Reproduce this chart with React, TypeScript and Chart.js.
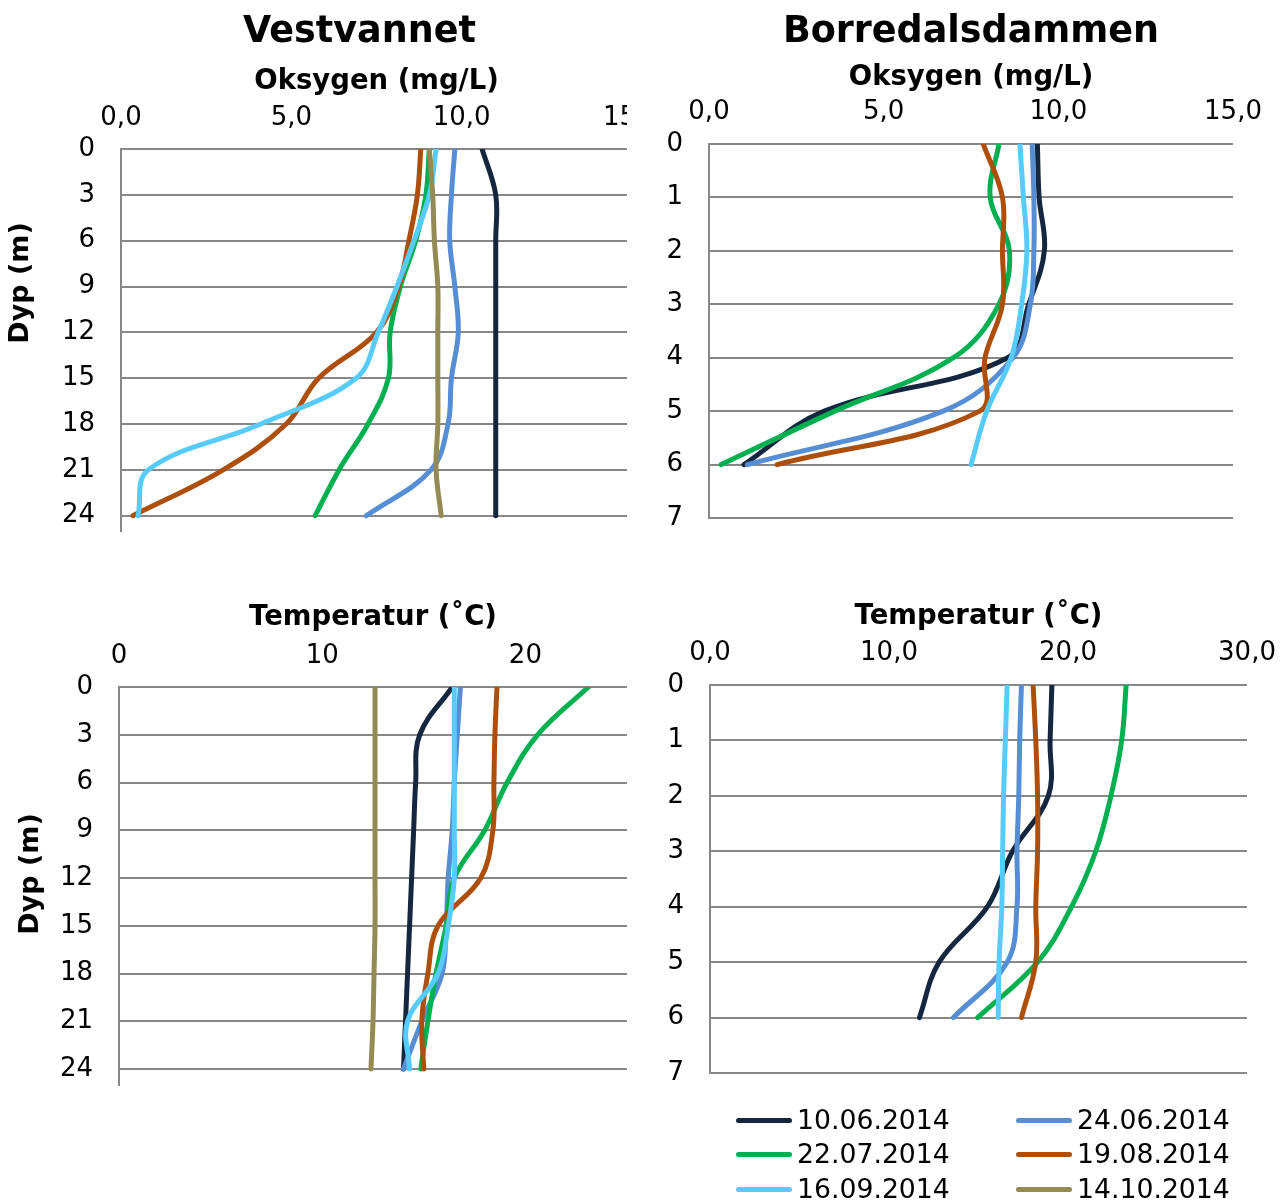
import React, { useEffect, useRef } from "react";
import { Chart, registerables } from "chart.js";

Chart.register(...registerables);
Chart.defaults.font.family = "'DejaVu Sans', Verdana, sans-serif";

// ---------- series ----------
const DATES = ["10.06.2014", "24.06.2014", "22.07.2014", "19.08.2014", "16.09.2014", "14.10.2014"];
const COLORS = ["#14273F", "#558ED5", "#00B050", "#AD4F0B", "#57CBFB", "#948A54"];

const VEST_DEPTHS = [0, 3, 6, 9, 12, 15, 18, 21, 24];
const BORR_DEPTHS = [0, 1, 2, 3, 4, 5, 6];

// Vestvannet – oksygen (mg/L)
const VEST_O2_1006 = [10.6, 11.0, 11.0, 11.0, 11.0, 11.0, 11.0, 11.0, 11.0];
const VEST_O2_2406 = [9.8, 9.7, 9.65, 9.8, 9.9, 9.7, 9.6, 9.1, 7.2];
const VEST_O2_2207 = [9.05, 8.95, 8.65, 8.2, 7.9, 7.85, 7.25, 6.4, 5.7];
const VEST_O2_1908 = [8.8, 8.7, 8.45, 8.15, 7.5, 5.8, 4.85, 3.0, 0.35];
const VEST_O2_1609 = [9.25, 9.05, 8.6, 8.1, 7.55, 6.9, 4.1, 0.8, 0.5];
const VEST_O2_1410 = [9.05, 9.15, 9.2, 9.3, 9.3, 9.3, 9.3, 9.25, 9.4];

// Borredalsdammen – oksygen (mg/L)
const BORR_O2_1006 = [9.4, 9.45, 9.6, 9.15, 8.55, 3.3, 1.0];
const BORR_O2_2406 = [9.25, 9.3, 9.3, 9.2, 8.7, 6.7, 1.1];
const BORR_O2_2207 = [8.3, 8.05, 8.6, 8.3, 7.0, 3.6, 0.35];
const BORR_O2_1908 = [7.85, 8.4, 8.4, 8.4, 7.9, 7.75, 1.95];
const BORR_O2_1609 = [8.9, 9.0, 9.1, 8.95, 8.65, 7.95, 7.5];

// Vestvannet – temperatur (°C)
const VEST_T_1006 = [16.4, 14.8, 14.6, 14.5, 14.4, 14.3, 14.2, 14.1, 14.0];
const VEST_T_2406 = [16.8, 16.65, 16.5, 16.4, 16.2, 16.1, 15.9, 14.9, 14.0];
const VEST_T_2207 = [23.1, 20.6, 19.1, 18.0, 16.5, 16.1, 15.6, 15.2, 14.85];
const VEST_T_1908 = [18.6, 18.5, 18.45, 18.4, 17.8, 15.7, 15.2, 14.9, 15.0];
const VEST_T_1609 = [16.5, 16.5, 16.5, 16.5, 16.5, 16.2, 15.7, 14.2, 14.3];
const VEST_T_1410 = [12.6, 12.6, 12.6, 12.6, 12.6, 12.6, 12.55, 12.5, 12.4];

// Borredalsdammen – temperatur (°C)
const BORR_T_1006 = [19.1, 19.0, 18.9, 16.9, 15.5, 12.8, 11.7];
const BORR_T_2406 = [17.4, 17.3, 17.25, 17.15, 17.15, 16.6, 13.6];
const BORR_T_2207 = [23.25, 23.0, 22.4, 21.55, 20.2, 18.3, 14.95];
const BORR_T_1908 = [18.05, 18.2, 18.3, 18.3, 18.2, 18.2, 17.4];
const BORR_T_1609 = [16.6, 16.5, 16.4, 16.35, 16.3, 16.15, 16.1];

// ---------- ticks ----------
const VEST_DEPTH_TICKS = [0, 3, 6, 9, 12, 15, 18, 21, 24];
const BORR_DEPTH_TICKS = [0, 1, 2, 3, 4, 5, 6, 7];
const O2_TICKS = [0, 5, 10, 15];
const O2_TICK_LABELS = ["0,0", "5,0", "10,0", "15,0"];
const VEST_TEMP_TICKS = [0, 10, 20];
const VEST_TEMP_TICK_LABELS = ["0", "10", "20"];
const BORR_TEMP_TICKS = [0, 10, 20, 30];
const BORR_TEMP_TICK_LABELS = ["0,0", "10,0", "20,0", "30,0"];

const GRID = "#878787";
const FONT = "'DejaVu Sans', Verdana, sans-serif";

type Series = { idx: number; values: number[] };

type PanelCfg = {
  wrap: { left: number; top: number; width: number; height: number };
  cw: number;
  ch: number;
  pad: { left: number; right: number; top: number; bottom: number };
  title?: { text: string; padTop: number; fullSize: boolean };
  xTitle: string;
  xTitlePad: number;
  tickPad: number;
  xAxisH: number;
  yAxisW: number;
  rightSpacer: number;
  xMax: number;
  xTicks: number[];
  xLabels: string[];
  yMax: number;
  yTicks: number[];
  depths: number[];
  series: Series[];
  yTitle?: { x: number; y: number };
};

const PANELS: PanelCfg[] = [
  {
    wrap: { left: 0, top: 0, width: 627, height: 600 },
    cw: 700,
    ch: 600,
    pad: { left: 56, right: 37, top: 0, bottom: 69 },
    title: { text: "Vestvannet", padTop: 11.0, fullSize: true },
    xTitle: "Oksygen (mg/L)",
    xTitlePad: 10.3,
    tickPad: 15.2,
    xAxisH: 94.2,
    yAxisW: 65,
    rightSpacer: 31,
    xMax: 15,
    xTicks: O2_TICKS,
    xLabels: O2_TICK_LABELS,
    yMax: 25,
    yTicks: VEST_DEPTH_TICKS,
    depths: VEST_DEPTHS,
    series: [
      { idx: 0, values: VEST_O2_1006 },
      { idx: 1, values: VEST_O2_2406 },
      { idx: 2, values: VEST_O2_2207 },
      { idx: 3, values: VEST_O2_1908 },
      { idx: 4, values: VEST_O2_1609 },
      { idx: 5, values: VEST_O2_1410 },
    ],
    yTitle: { x: 20.5, y: 283 },
  },
  {
    wrap: { left: 640, top: 0, width: 640, height: 600 },
    cw: 700,
    ch: 600,
    pad: { left: 0, right: 107, top: 0, bottom: 82 },
    title: { text: "Borredalsdammen", padTop: 10.7, fullSize: false },
    xTitle: "Oksygen (mg/L)",
    xTitlePad: 7.3,
    tickPad: 16.4,
    xAxisH: 89.5,
    yAxisW: 69,
    rightSpacer: 0,
    xMax: 15,
    xTicks: O2_TICKS,
    xLabels: O2_TICK_LABELS,
    yMax: 7,
    yTicks: BORR_DEPTH_TICKS,
    depths: BORR_DEPTHS,
    series: [
      { idx: 0, values: BORR_O2_1006 },
      { idx: 1, values: BORR_O2_2406 },
      { idx: 2, values: BORR_O2_2207 },
      { idx: 3, values: BORR_O2_1908 },
      { idx: 4, values: BORR_O2_1609 },
    ],
  },
  {
    wrap: { left: 0, top: 560, width: 640, height: 640 },
    cw: 700,
    ch: 600,
    pad: { left: 0, right: 73, top: 0, bottom: 75 },
    xTitle: "Temperatur (˚C)",
    xTitlePad: 41.0,
    tickPad: 15.3,
    xAxisH: 127,
    yAxisW: 119,
    rightSpacer: 0,
    xMax: 25,
    xTicks: VEST_TEMP_TICKS,
    xLabels: VEST_TEMP_TICK_LABELS,
    yMax: 25,
    yTicks: VEST_DEPTH_TICKS,
    depths: VEST_DEPTHS,
    series: [
      { idx: 0, values: VEST_T_1006 },
      { idx: 1, values: VEST_T_2406 },
      { idx: 2, values: VEST_T_2207 },
      { idx: 3, values: VEST_T_1908 },
      { idx: 4, values: VEST_T_1609 },
      { idx: 5, values: VEST_T_1410 },
    ],
    yTitle: { x: 30.5, y: 314 },
  },
  {
    wrap: { left: 640, top: 560, width: 640, height: 640 },
    cw: 700,
    ch: 600,
    pad: { left: 0, right: 93, top: 0, bottom: 87 },
    xTitle: "Temperatur (˚C)",
    xTitlePad: 40.5,
    tickPad: 16.1,
    xAxisH: 125,
    yAxisW: 70,
    rightSpacer: 0,
    xMax: 30,
    xTicks: BORR_TEMP_TICKS,
    xLabels: BORR_TEMP_TICK_LABELS,
    yMax: 7,
    yTicks: BORR_DEPTH_TICKS,
    depths: BORR_DEPTHS,
    series: [
      { idx: 0, values: BORR_T_1006 },
      { idx: 1, values: BORR_T_2406 },
      { idx: 2, values: BORR_T_2207 },
      { idx: 3, values: BORR_T_1908 },
      { idx: 4, values: BORR_T_1609 },
    ],
  },
];

function yTitlePlugin(text: string, x: number, y: number) {
  return {
    id: "yTitleText",
    afterDraw(chart: any) {
      const ctx = chart.ctx as CanvasRenderingContext2D;
      ctx.save();
      ctx.translate(x, y);
      ctx.rotate(-Math.PI / 2);
      ctx.font = `bold 27px ${FONT}`;
      ctx.fillStyle = "#000";
      ctx.textAlign = "center";
      ctx.textBaseline = "middle";
      ctx.fillText(text, 0, 0);
      ctx.restore();
    },
  };
}

function Panel({ cfg }: { cfg: PanelCfg }) {
  const ref = useRef<HTMLCanvasElement>(null);
  useEffect(() => {
    if (!ref.current) return;
    const datasets = cfg.series.map((s) => ({
      label: DATES[s.idx],
      data: cfg.depths.map((d, i) => ({ x: s.values[i], y: d })),
      borderColor: COLORS[s.idx],
      backgroundColor: COLORS[s.idx],
      borderWidth: 5,
      borderCapStyle: "round" as const,
      borderJoinStyle: "round" as const,
      showLine: true,
      tension: 0.38,
      pointRadius: 0,
      pointHoverRadius: 0,
      order: 10 - s.idx,
    }));
    const plugins: any[] = [];
    if (cfg.yTitle) plugins.push(yTitlePlugin("Dyp (m)", cfg.yTitle.x, cfg.yTitle.y));
    const scales: any = {
      x: {
        type: "linear",
        position: "top",
        min: 0,
        max: cfg.xMax,
        afterBuildTicks: (s: any) => {
          s.ticks = cfg.xTicks.map((v) => ({ value: v }));
        },
        afterFit: (s: any) => {
          s.height = cfg.xAxisH;
        },
        grid: { display: false, drawTicks: false },
        border: { display: false },
        ticks: {
          autoSkip: false,
          maxRotation: 0,
          padding: cfg.tickPad,
          color: "#000",
          font: { size: 26, family: FONT },
          callback: (v: any) => {
            const i = cfg.xTicks.indexOf(Number(v));
            return i >= 0 ? cfg.xLabels[i] : "";
          },
        },
        title: {
          display: true,
          text: cfg.xTitle,
          color: "#000",
          font: { size: 27.5, weight: "bold", family: FONT },
          padding: { top: cfg.xTitlePad, bottom: 0 },
        },
      },
      y: {
        type: "linear",
        position: "left",
        reverse: true,
        min: 0,
        max: cfg.yMax,
        afterBuildTicks: (s: any) => {
          s.ticks = cfg.yTicks.map((v) => ({ value: v }));
        },
        afterFit: (s: any) => {
          s.width = cfg.yAxisW;
        },
        grid: { color: GRID, lineWidth: 2, drawTicks: false },
        border: { display: true, color: GRID, width: 2 },
        ticks: {
          autoSkip: false,
          padding: 26,
          color: "#000",
          font: { size: 26, family: FONT },
          callback: (v: any) => String(v),
        },
      },
    };
    if (cfg.rightSpacer > 0) {
      // empty right-hand box, only reserves room so the chart title centres like the original
      scales.spacer = {
        type: "linear",
        axis: "y",
        position: "right",
        min: 0,
        max: 1,
        afterFit: (s: any) => {
          s.width = cfg.rightSpacer;
        },
        grid: { display: false, drawTicks: false },
        border: { display: false },
        ticks: { display: false },
      };
    }
    const chart = new Chart(ref.current, {
      type: "scatter",
      data: { datasets },
      plugins,
      options: {
        responsive: false,
        animation: false,
        devicePixelRatio: 1,
        layout: { padding: cfg.pad },
        plugins: {
          legend: { display: false },
          tooltip: { enabled: false },
          title: cfg.title
            ? {
                display: true,
                text: cfg.title.text,
                fullSize: cfg.title.fullSize,
                color: "#000",
                font: { size: 36.5, weight: "bold", family: FONT },
                padding: { top: cfg.title.padTop, bottom: 0 },
              }
            : { display: false },
        },
        scales,
      } as any,
    });
    return () => chart.destroy();
  }, [cfg]);
  return (
    <div
      style={{
        position: "absolute",
        left: cfg.wrap.left,
        top: cfg.wrap.top,
        width: cfg.wrap.width,
        height: cfg.wrap.height,
        overflow: "hidden",
      }}
    >
      <canvas
        ref={ref}
        width={cfg.cw}
        height={cfg.ch}
        style={{ display: "block", width: cfg.cw, height: cfg.ch }}
      />
    </div>
  );
}

const LEG_X0 = 736;
const LEG_DX = 280;
const LEG_Y0 = 1120;
const LEG_DY = 34.7;

function Legend() {
  return (
    <>
      {DATES.map((d, i) => {
        const col = i % 2;
        const row = Math.floor(i / 2);
        const x = LEG_X0 + col * LEG_DX;
        const cy = LEG_Y0 + row * LEG_DY;
        return (
          <React.Fragment key={d}>
            <div
              style={{
                position: "absolute",
                left: x,
                top: cy - 2.5,
                width: 56,
                height: 5,
                borderRadius: 2.5,
                background: COLORS[i],
              }}
            />
            <div
              style={{
                position: "absolute",
                left: x + 61,
                top: cy - 17,
                height: 34,
                display: "flex",
                alignItems: "center",
                fontFamily: FONT,
                fontSize: 26.7,
                lineHeight: 1,
                color: "#000",
                whiteSpace: "nowrap",
              }}
            >
              {d}
            </div>
          </React.Fragment>
        );
      })}
    </>
  );
}

export default function App() {
  return (
    <div
      style={{
        position: "absolute",
        left: 0,
        top: 0,
        width: 1280,
        height: 1200,
        overflow: "hidden",
        background: "#fff",
      }}
    >
      {PANELS.map((p, i) => (
        <Panel key={i} cfg={p} />
      ))}
      <Legend />
    </div>
  );
}
